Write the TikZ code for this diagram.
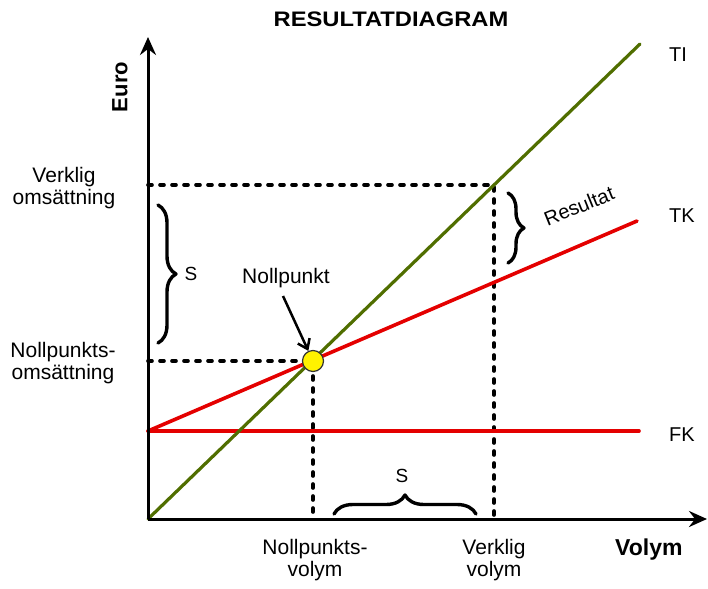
\documentclass[tikz,border=0pt]{standalone}
\usepackage{fontspec}
\setmainfont{Liberation Sans}
\usetikzlibrary{arrows.meta,decorations.pathreplacing}
\definecolor{tigreen}{RGB}{80,110,0}
\definecolor{tkred}{RGB}{228,0,0}
\begin{document}
\begin{tikzpicture}[x=1pt,y=-1pt,
  lbl/.style={font=\fontsize{21}{22}\selectfont, align=center, inner sep=0pt},
  curvelbl/.style={font=\fontsize{20}{22}\selectfont, inner sep=0pt, anchor=base west},
  axis/.style={line width=3pt, -{Stealth[length=18pt,width=16pt,inset=6pt]}},
  guide/.style={line width=3.6pt, line cap=round, dash pattern=on 4pt off 8pt},
  tiline/.style={line width=3.2pt, tigreen, line cap=round},
  tkline/.style={line width=3.6pt, tkred, line cap=round},
  bracestyle/.style={decorate, line width=3.4pt, line cap=round, line join=round},
]
\useasboundingbox (0,0) rectangle (708,588);

% key points
\coordinate (O) at (148,519);
\coordinate (Ytip) at (148,37);
\coordinate (Xtip) at (707,519);
\coordinate (TIend) at (640,44);
\coordinate (TKstart) at (148,431);
\coordinate (TKend) at (637,221);
\coordinate (FKend) at (639,431);
\coordinate (VO) at (494,185);
\coordinate (VX) at (494,519);
\coordinate (VY) at (148,185);
\coordinate (NPc) at (313,361);
\coordinate (NX) at (313,519);
\coordinate (NY) at (148,361);

% dashed guides
\draw[guide] (VY) -- (VO) -- (VX);
\draw[guide] (NY) -- (NPc) -- (NX);

% curves
\draw[tkline] (TKstart) -- (FKend);
\draw[tkline] (TKstart) -- (TKend);
\draw[tiline] (O) -- (TIend);

% axes
\draw[axis] (O) -- (Ytip);
\draw[axis] (O) -- (Xtip);

% break-even point
\node[circle, fill=yellow, draw=black!80, line width=1.2pt, minimum size=21pt, inner sep=0pt] (NP) at (NPc) {};

% braces
\draw[bracestyle, decoration={brace, amplitude=18pt}] (158,205) -- (158,343);
\draw[bracestyle, decoration={brace, amplitude=16pt}] (508,193) -- (508,263);
\draw[bracestyle, decoration={brace, amplitude=19pt}] (334,514) -- (476,514);

% labels
\node[font=\bfseries\fontsize{21}{22}\selectfont, anchor=base, xscale=1.13, inner sep=0pt] (title) at (391,27) {RESULTATDIAGRAM};
\node[font=\bfseries\fontsize{22}{24}\selectfont, rotate=90, inner sep=0pt] (euro) at (120,87) {Euro};
\node[font=\bfseries\fontsize{23}{24}\selectfont, anchor=base west, inner sep=0pt] (volym) at (615,555) {Volym};

\node[lbl] (vo) at (64,188) {Verklig\\omsättning};
\node[lbl] (no) at (63,363) {Nollpunkts-\\omsättning};
\node[lbl] (nv) at (315,560) {Nollpunkts-\\volym};
\node[lbl] (vv) at (494,560) {Verklig\\volym};

\node[curvelbl] (ti) at (669,62) {TI};
\node[curvelbl] (tk) at (669,222) {TK};
\node[curvelbl] (fk) at (669,441) {FK};

\node[font=\fontsize{19}{20}\selectfont, anchor=base, inner sep=0pt] (s1) at (191,280) {S};
\node[font=\fontsize{19}{20}\selectfont, anchor=base, inner sep=0pt] (s2) at (402,482) {S};
\node[font=\fontsize{20}{22}\selectfont, rotate=22, inner sep=0pt] (res) at (579,206) {Resultat};

\node[font=\fontsize{21}{22}\selectfont, anchor=base, inner sep=0pt] (npl) at (286,283) {Nollpunkt};
\draw[line width=2.5pt, -{Straight Barb[length=9pt,width=13pt]}] (283,296) -- (NP);
\end{tikzpicture}
\end{document}
